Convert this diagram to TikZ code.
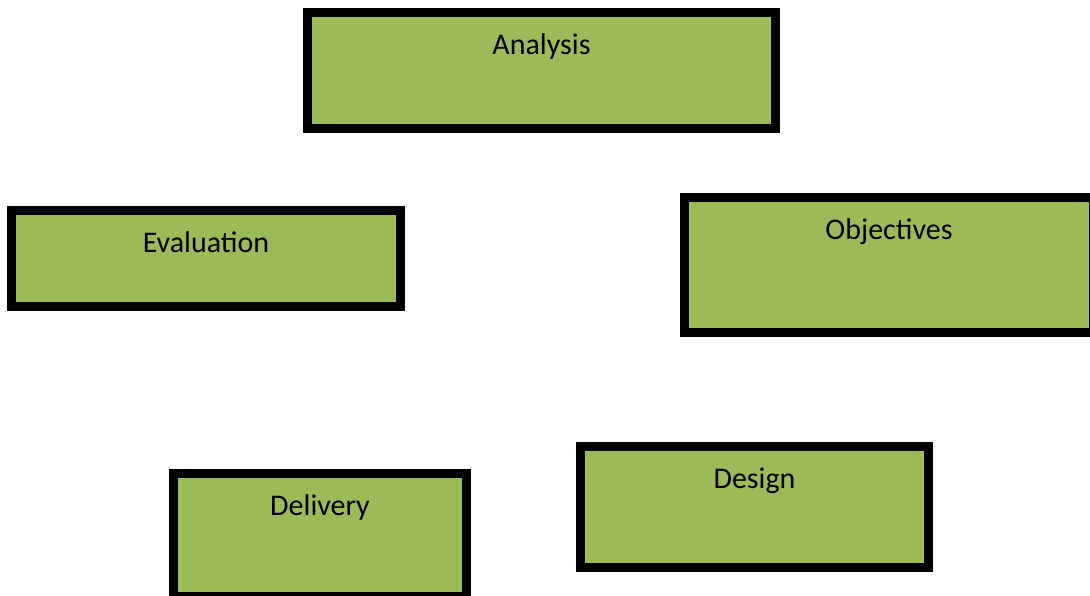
\documentclass[tikz,border=0pt]{standalone}
\usepackage{fontspec}
\setmainfont{Carlito}
\usepackage{tikz}
\usetikzlibrary{positioning}
\definecolor{stagegreen}{HTML}{9BBB59}

\begin{document}
\begin{tikzpicture}[x=1pt,y=1pt,
  stagebox/.style={draw=black,line width=9pt,fill=stagegreen,inner sep=0pt,outer sep=0pt},
  stagename/.style={anchor=base,font=\fontsize{30}{36}\selectfont,inner sep=0pt}]
\useasboundingbox (0,0) rectangle (1090,596);
\node[stagebox,minimum width=468,minimum height=116] (analysis) at (541.5,525.5) {};
\node[stagebox,minimum width=389,minimum height=96] (evaluation) at (206,337.5) {};
\node[stagebox,minimum width=409,minimum height=135] (objectives) at (889,331) {};
\node[stagebox,minimum width=293,minimum height=123] (delivery) at (320,61) {};
\node[stagebox,minimum width=348,minimum height=121] (design) at (754.5,89) {};
% names sit near the top edge of each box
\node[stagename] (analysisText) at ([yshift=-42.5]analysis.north) {Analysis};
\node[stagename] (evaluationText) at ([yshift=-42.5]evaluation.north) {Evaluation};
\node[stagename] (objectivesText) at ([yshift=-42.5]objectives.north) {Objectives};
\node[stagename] (deliveryText) at ([yshift=-42.5]delivery.north) {Delivery};
\node[stagename] (designText) at ([yshift=-42.5]design.north) {Design};
\end{tikzpicture}
\end{document}
